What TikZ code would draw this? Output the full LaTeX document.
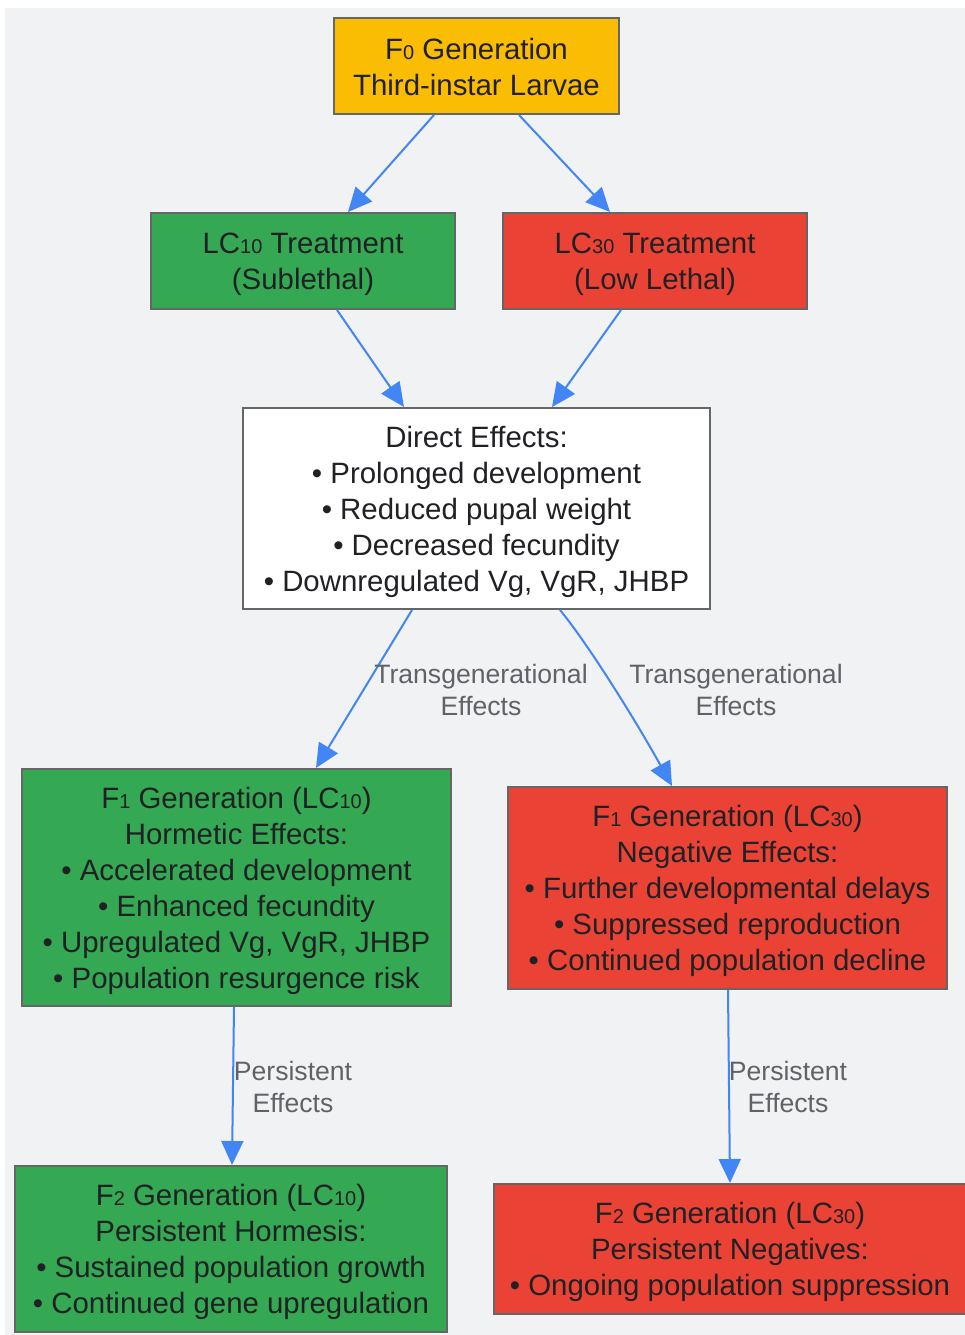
\documentclass[tikz,border=0pt]{standalone}
\usepackage{fontspec}
\setmainfont{Liberation Sans}
\usetikzlibrary{arrows.meta,calc}
\definecolor{bgc}{RGB}{241,242,244}
\definecolor{yel}{RGB}{251,188,4}
\definecolor{grn}{RGB}{52,168,83}
\definecolor{rdd}{RGB}{234,67,53}
\definecolor{bord}{RGB}{102,102,102}
\definecolor{txt}{RGB}{32,33,36}
\definecolor{lbl}{RGB}{95,99,104}
\definecolor{edge}{RGB}{66,133,244}
\newcommand\sdig[1]{{\fontsize{20}{20}\selectfont #1}}
\newcommand\topstrut{\rule{0pt}{27.5pt}}
\tikzset{
  box/.style={draw=bord, line width=2pt, rectangle, inner sep=0pt, align=center,
    text=txt, font=\fontsize{29.4}{36}\selectfont},
  elabel/.style={inner sep=0pt, align=center, text=lbl, font=\fontsize{26.6}{32}\selectfont},
  conn/.style={draw=edge, line width=2pt, -{Triangle[length=24pt,width=22pt]}}
}
\begin{document}
\begin{tikzpicture}[x=1pt,y=-1pt]
\useasboundingbox (0,0) rectangle (964,1335);
\fill[bgc] (5,8) rectangle (966,1337);

\node[box, fill=yel, minimum width=285pt, minimum height=96pt] (f0) at (476.5,66)
  {\rule{0pt}{23.5pt}F\sdig{0} Generation\\Third-instar Larvae};
\node[box, fill=grn, minimum width=304pt, minimum height=96pt] (lc10) at (303,261)
  {\topstrut LC\sdig{10} Treatment\\(Sublethal)};
\node[box, fill=rdd, minimum width=304pt, minimum height=96pt] (lc30) at (655,261)
  {\topstrut LC\sdig{30} Treatment\\(Low Lethal)};
\node[box, fill=white, minimum width=467pt, minimum height=201pt] (dir) at (476.5,508.5)
  {\topstrut Direct Effects:\\\textbullet{} Prolonged development\\\textbullet{} Reduced pupal weight\\\textbullet{} Decreased fecundity\\\textbullet{} Downregulated Vg, VgR, JHBP};
\node[box, fill=grn, minimum width=429pt, minimum height=237pt] (f1a) at (236.5,887.5)
  {\topstrut F\sdig{1} Generation (LC\sdig{10})\\Hormetic Effects:\\\textbullet{} Accelerated development\\\textbullet{} Enhanced fecundity\\\textbullet{} Upregulated Vg, VgR, JHBP\\\textbullet{} Population resurgence risk};
\node[box, fill=rdd, minimum width=439pt, minimum height=202pt] (f1b) at (727.5,888)
  {\topstrut F\sdig{1} Generation (LC\sdig{30})\\Negative Effects:\\\textbullet{} Further developmental delays\\\textbullet{} Suppressed reproduction\\\textbullet{} Continued population decline};
\node[box, fill=grn, minimum width=432pt, minimum height=166pt] (f2a) at (231,1249)
  {\topstrut F\sdig{2} Generation (LC\sdig{10})\\Persistent Hormesis:\\\textbullet{} Sustained population growth\\\textbullet{} Continued gene upregulation};
\node[box, fill=rdd, minimum width=472pt, minimum height=130pt] (f2b) at (730,1249)
  {\topstrut F\sdig{2} Generation (LC\sdig{30})\\Persistent Negatives:\\\textbullet{} Ongoing population suppression};

\draw[conn] ([xshift=-42.5pt]f0.south) -- ([xshift=45pt]lc10.north);
\draw[conn] ([xshift=42.5pt]f0.south) -- ([xshift=-45pt]lc30.north);
\draw[conn] ([xshift=34pt]lc10.south) -- ([xshift=-72.5pt]dir.north);
\draw[conn] ([xshift=-34pt]lc30.south) -- ([xshift=75.5pt]dir.north);
\draw[conn] ([xshift=-64.5pt]dir.south) -- ([xshift=79.5pt]f1a.north);
\draw[conn] ([xshift=83.5pt]dir.south) .. controls +(25,30) and +(-40,-72) .. ([xshift=-55.5pt]f1b.north);
\draw[conn] ([xshift=-2.5pt]f1a.south) -- ([xshift=1pt]f2a.north);
\draw[conn] ([xshift=0.5pt]f1b.south) -- (f2b.north);

\node[elabel] (l1) at (481,690) {Transgenerational\\Effects};
\node[elabel] (l2) at (736,690) {Transgenerational\\Effects};
\node[elabel] (l3) at (293,1087) {Persistent\\Effects};
\node[elabel] (l4) at (788,1087) {Persistent\\Effects};
\end{tikzpicture}
\end{document}
